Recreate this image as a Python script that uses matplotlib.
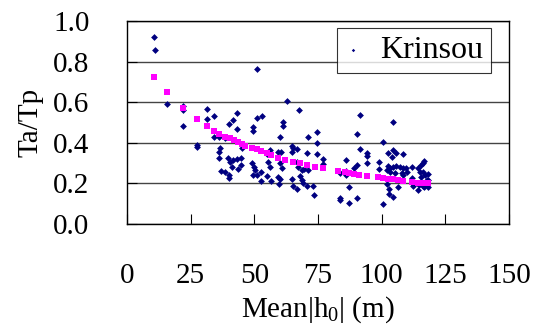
"""Ta/Tp against Mean|h0| for Krinsou, with fitted trend points."""

import matplotlib

matplotlib.use("Agg")
from matplotlib import pyplot as plt

plt.rcParams["font.family"] = "serif"
plt.rcParams["font.serif"] = ["Liberation Serif", "Times New Roman", "DejaVu Serif"]
plt.rcParams["mathtext.default"] = "regular"

# observed points (Mean|h0| in m, Ta/Tp)
obs_x = [
    10.7, 11.0, 15.7, 21.9, 21.9, 21.9, 27.4, 27.4, 31.6, 31.6,
    34.3, 34.3, 36.3, 38.3, 36.7, 36.2, 36.3, 36.9, 38.5, 40.0,
    40.0, 40.1, 41.6, 43.1, 43.3, 39.8, 40.4, 41.6, 43.1, 44.6,
    41.4, 43.4, 44.7, 45.0,
    49.3, 49.6, 51.1, 51.1, 52.9, 48.9, 49.8, 50.2, 49.5, 51.2,
    52.6, 52.6, 55.1, 56.4, 55.2, 56.1, 54.8, 56.3, 63.0, 67.6,
    61.3, 61.3, 60.0, 59.4, 60.3, 60.0, 60.7, 59.4, 60.0, 59.8,
    64.6, 65.3, 66.6, 64.6, 66.6, 67.2, 68.6, 69.6, 71.2, 67.9,
    68.6, 69.0, 70.5, 64.6, 65.0, 66.9, 73.1, 73.4, 74.5, 74.5,
    71.2, 70.5, 74.5, 77.0, 77.0,
    91.4, 104.3, 90.4, 100.4, 91.4, 94.1, 94.1, 86.0, 98.9, 102.6,
    104.5, 105.8, 108.2, 103.9, 90.1, 89.1, 94.1, 83.6, 86.0, 86.0,
    98.9, 102.6, 103.2, 104.5, 105.8, 107.1, 108.2, 109.5, 111.7, 110.0,
    108.2, 105.2, 103.2, 101.9, 114.3, 115.3, 116.1, 116.7, 115.0, 116.3,
    117.0, 118.3, 115.6, 117.6, 111.7, 111.7, 114.7, 116.3, 118.3, 87.1,
    101.9, 102.9, 102.9, 104.5, 106.2, 114.3, 83.6, 83.6, 87.1, 90.4,
    100.4, 107.8, 112.2, 118.3, 116.6,
]
obs_y = [
    0.921, 0.856, 0.591, 0.581, 0.560, 0.483, 0.389, 0.378, 0.565, 0.516,
    0.534, 0.429, 0.427, 0.422, 0.373, 0.357, 0.323, 0.261, 0.258, 0.241,
    0.225, 0.490, 0.510, 0.547, 0.468, 0.323, 0.305, 0.314, 0.320, 0.324,
    0.282, 0.269, 0.291, 0.373,
    0.479, 0.460, 0.762, 0.521, 0.533, 0.301, 0.282, 0.266, 0.239, 0.241,
    0.258, 0.214, 0.236, 0.212, 0.303, 0.282, 0.345, 0.362, 0.606, 0.562,
    0.501, 0.483, 0.426, 0.355, 0.355, 0.299, 0.274, 0.230, 0.224, 0.196,
    0.384, 0.373, 0.367, 0.356, 0.307, 0.282, 0.266, 0.269, 0.266, 0.236,
    0.217, 0.200, 0.187, 0.220, 0.187, 0.170, 0.187, 0.143, 0.451, 0.400,
    0.426, 0.351, 0.345, 0.318, 0.296,
    0.537, 0.501, 0.443, 0.405, 0.368, 0.348, 0.335, 0.314, 0.307, 0.348,
    0.365, 0.351, 0.345, 0.329, 0.291, 0.274, 0.299, 0.250, 0.263, 0.241,
    0.269, 0.286, 0.274, 0.279, 0.286, 0.279, 0.274, 0.274, 0.279, 0.258,
    0.241, 0.250, 0.258, 0.266, 0.274, 0.291, 0.302, 0.312, 0.254, 0.258,
    0.241, 0.245, 0.230, 0.217, 0.225, 0.203, 0.192, 0.187, 0.184, 0.181,
    0.197, 0.172, 0.148, 0.134, 0.184, 0.167, 0.127, 0.116, 0.105, 0.130,
    0.099, 0.250, 0.187, 0.217, 0.184,
]

# fitted trend values
fit_x = [
    10.7, 15.6, 21.9, 27.4, 31.6, 34.3, 36.1, 38.5, 40.4, 42.1,
    43.7, 45.0, 46.5, 48.9, 50.9, 52.6, 54.8, 56.5, 59.4, 62.0,
    65.3, 67.9, 70.5, 73.8, 77.0, 82.9, 85.6, 87.2, 89.1, 91.2,
    94.1, 98.6, 100.6, 102.6, 104.5, 106.5, 108.4, 111.7, 114.3, 116.3,
    118.3,
]
fit_y = [
    0.724, 0.649, 0.570, 0.517, 0.483, 0.460, 0.443, 0.430, 0.422, 0.414,
    0.402, 0.393, 0.386, 0.376, 0.368, 0.360, 0.348, 0.340, 0.324, 0.315,
    0.307, 0.299, 0.291, 0.282, 0.277, 0.263, 0.258, 0.253, 0.246, 0.241,
    0.236, 0.230, 0.225, 0.222, 0.220, 0.217, 0.213, 0.208, 0.203, 0.200,
    0.200,
]

x_ticks = [0, 25, 50, 75, 100, 125, 150]
y_ticks = [0.0, 0.2, 0.4, 0.6, 0.8, 1.0]

fig = plt.figure(figsize=(5.37, 3.27), dpi=100)
ax = fig.add_axes([0.2365, 0.315, 0.7115, 0.621])

ax.scatter(obs_x, obs_y, marker="D", s=12, color="#000080", linewidths=0,
           zorder=3, label="Krinsou")
ax.scatter(fit_x, fit_y, marker="s", s=20, color="#ff00ff", linewidths=0, zorder=4)

ax.set_xlim(0, 150)
ax.set_ylim(0, 1.0)
ax.set_xticks(x_ticks)
ax.set_yticks(y_ticks)
ax.set_xticklabels([str(v) for v in x_ticks])
ax.set_yticklabels([f"{v:.1f}" for v in y_ticks])
ax.yaxis.grid(True, color="#444444", linewidth=1.0)
ax.set_axisbelow(True)
ax.tick_params(axis="both", direction="in", length=7, width=0.8,
               labelsize=21, colors="black")
ax.tick_params(axis="x", pad=28)
ax.tick_params(axis="y", pad=27)
for spine in ax.spines.values():
    spine.set_color("black")
    spine.set_linewidth(1.0)

ax.set_xlabel("Mean|h$_0$| (m)", fontsize=21, labelpad=4)
ax.set_ylabel("Ta/Tp", fontsize=21, labelpad=7)

leg = ax.legend(loc="upper right", bbox_to_anchor=(0.953, 0.966),
                fontsize=23, frameon=True, fancybox=False, borderaxespad=0,
                handlelength=0.5, handletextpad=0.6, borderpad=0.25,
                markerscale=0.5)
leg.get_frame().set_edgecolor("black")
leg.get_frame().set_linewidth(0.8)

fig.savefig("out.png", dpi=100)
